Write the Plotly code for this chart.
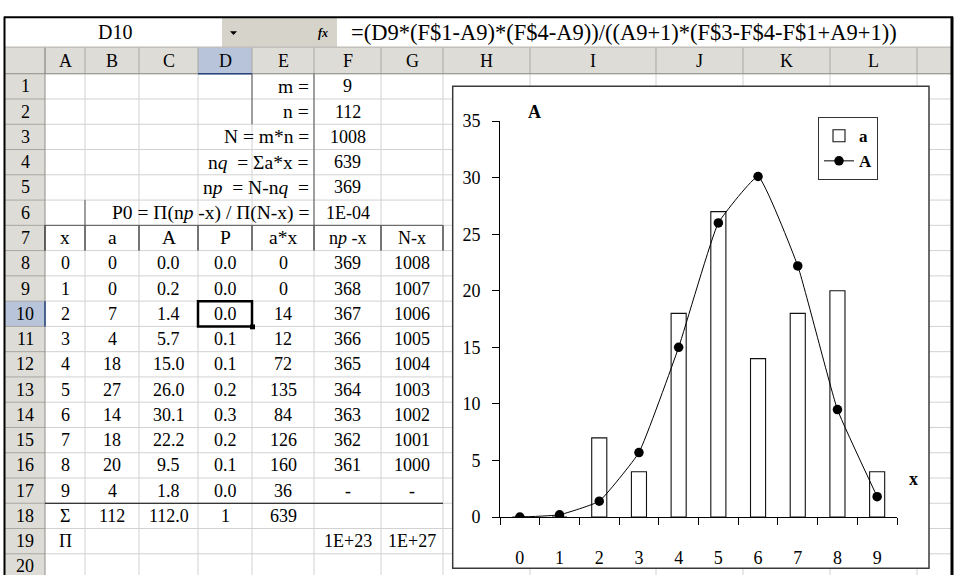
import plotly.graph_objects as go

W, H = 956, 585

# ---------------- data ----------------
x_vals = [0, 1, 2, 3, 4, 5, 6, 7, 8, 9]
a_vals = [0, 0, 7, 4, 18, 27, 14, 18, 20, 4]
A_vals = [0.0, 0.2, 1.4, 5.7, 15.0, 26.0, 30.1, 22.2, 9.5, 1.8]
P_vals = ["0.0", "0.0", "0.0", "0.1", "0.1", "0.2", "0.3", "0.2", "0.1", "0.0"]
ax_vals = [0, 0, 14, 12, 72, 135, 84, 126, 160, 36]
npx_vals = ["369", "368", "367", "366", "365", "364", "363", "362", "361", "-"]
Nx_vals = ["1008", "1007", "1006", "1005", "1004", "1003", "1002", "1001", "1000", "-"]
param_labels = ["m =", "n =", "N = m*n =", "n<i>q</i>  = Σa*x =", "n<i>p</i>  = N-n<i>q</i>  =",
                "P0 = Π(n<i>p</i> -x) / Π(N-x) ="]
param_values = ["9", "112", "1008", "639", "369", "1E-04"]
head_labels = ["x", "a", "A", "P", "a*x", "n<i>p</i> -x", "N-x"]
sum_row = ["Σ", "112", "112.0", "1", "639", "", ""]
prod_row = ["Π", "", "", "", "", "1E+23", "1E+27"]
col_letters = ["A", "B", "C", "D", "E", "F", "G", "H", "I", "J", "K", "L", ""]
formula = "=(D9*(F$1-A9)*(F$4-A9))/((A9+1)*(F$3-F$4-F$1+A9+1))"
name_box = "D10"

# ---------------- geometry helpers ----------------
def PX(x):
    return x / W

def PY(y):
    return 1 - y / H

col_edges = [5, 45, 85, 139, 198, 252, 314, 381, 443, 530, 656, 743, 830, 917, 951]
ROW0, RH = 66.0, 26.16
def rtop(i):
    return ROW0 + (i - 1) * RH

def ccen(c):  # c: 0 -> A
    return (col_edges[c + 1] + col_edges[c + 2]) / 2

SERIF = "Liberation Serif, Times New Roman, serif"
shapes = []
ann = []

def rect(x0, y0, x1, y1, fill=None, line=None, lw=1):
    shapes.append(dict(type="rect", xref="paper", yref="paper", x0=PX(x0), x1=PX(x1),
                       y0=PY(y1), y1=PY(y0), fillcolor=fill or "rgba(0,0,0,0)",
                       line=dict(color=line or "rgba(0,0,0,0)", width=lw if line else 0),
                       layer="below"))

def hline(x0, x1, y, color, lw=1):
    shapes.append(dict(type="line", xref="paper", yref="paper", x0=PX(x0), x1=PX(x1),
                       y0=PY(y), y1=PY(y), line=dict(color=color, width=lw), layer="below"))

def vline(x, y0, y1, color, lw=1):
    shapes.append(dict(type="line", xref="paper", yref="paper", x0=PX(x), x1=PX(x),
                       y0=PY(y0), y1=PY(y1), line=dict(color=color, width=lw), layer="below"))

def text(x, y, s, size=18, anchor="center", bold=False, color="black", italic=False):
    if bold:
        s = "<b>" + s + "</b>"
    if italic:
        s = "<i>" + s + "</i>"
    ann.append(dict(x=PX(x), y=PY(y), xref="paper", yref="paper", text=s, showarrow=False,
                    xanchor=anchor, yanchor="middle", font=dict(family=SERIF, size=size, color=color)))

HEAD_BG = "#dedcd6"
SEL_BG = "#b7c4d9"
GRID = "#d2d2d2"
HSEP = "#a9a7a0"
CELL = 18
LABEL = 19.5

# formula bar
rect(5, 8, 222, 38, fill="white")
rect(222, 8, 337, 38, fill="#d6d3cb")
rect(337, 8, 951, 38, fill="white")
hline(5, 951, 38.5, "#9a9890")
text(115, 23, name_box, size=20)
shapes.append(dict(type="path", xref="paper", yref="paper",
                   path=f"M {PX(230)} {PY(22)} L {PX(237)} {PY(22)} L {PX(233.5)} {PY(26)} Z",
                   fillcolor="black", line=dict(width=0), layer="below"))
text(323, 24, "fx", size=12, italic=True, bold=True)
text(349, 23, formula, size=22.5, anchor="left")

# header row and row headers
rect(5, 39, 951, 66, fill=HEAD_BG)
rect(5, 66, 45, 585, fill=HEAD_BG)
rect(198, 39, 252, 66, fill=SEL_BG)
rect(5, rtop(10), 45, rtop(11), fill=SEL_BG)

# gridlines in the cell area
for i in range(1, 22):
    y = rtop(i)
    if y < 585:
        hline(45, 951, y, GRID)
for x in col_edges[2:-1]:
    vline(x, 66, 585, GRID)

# header separators
for x in col_edges[1:-1]:
    vline(x, 39, 66, HSEP)
for i in range(2, 22):
    y = rtop(i)
    if y < 585:
        hline(5, 45, y, HSEP)
hline(5, 951, 66, "#8f8d86")
vline(45, 39, 585, "#8f8d86")
hline(198, 252, 66, "#26467f", 1.5)
vline(45, rtop(10), rtop(11), "#26467f", 1.5)

# header texts
for c, letter in enumerate(col_letters):
    if letter:
        text(ccen(c), 53, letter, size=CELL)
for i in range(1, 21):
    text(25, rtop(i) + RH / 2, str(i), size=CELL)

# cell borders
DARK = "#555555"
vline(314, rtop(1), rtop(7), DARK)
vline(252, rtop(1), rtop(3), DARK)
vline(85, rtop(6), rtop(7), DARK)
for x in col_edges[1:9]:
    vline(x, rtop(7), rtop(8), "black")
hline(45, 443, rtop(7), DARK)
hline(45, 443, rtop(18), "black")

# parameter block
for k in range(6):
    yc = rtop(k + 1) + RH / 2
    text(311, yc, param_labels[k], size=LABEL, anchor="right")
    text(ccen(5), yc, param_values[k], size=CELL)

# table header
for c in range(7):
    text(ccen(c), rtop(7) + RH / 2, head_labels[c], size=LABEL if c < 5 else CELL)

# table body
for r in range(10):
    yc = rtop(8 + r) + RH / 2
    row = [str(x_vals[r]), str(a_vals[r]), f"{A_vals[r]:.1f}", P_vals[r], str(ax_vals[r]),
           npx_vals[r], Nx_vals[r]]
    for c in range(7):
        text(ccen(c), yc, row[c], size=CELL)
for c in range(7):
    if sum_row[c]:
        text(ccen(c), rtop(18) + RH / 2, sum_row[c], size=CELL)
    if prod_row[c]:
        text(ccen(c), rtop(19) + RH / 2, prod_row[c], size=CELL)

# selected cell D10
rect(198, rtop(10), 252, rtop(11), line="black", lw=2.5)
rect(250, rtop(11) - 2, 255, rtop(11) + 3, fill="black")

# chart area
rect(452.7, 79, 929, 578, fill="white", line="#3a3a3a", lw=1.5)

# outer frame
vline(4.5, 7, 585, "black", 2)
hline(4, 953, 7.5, "black", 2)
vline(952, 7, 585, "black", 3)

# chart titles
text(534, 106, "A", size=18, bold=True)
text(913, 486, "x", size=18, bold=True)

cats = [str(v) for v in x_vals]

fig = go.Figure()
fig.add_trace(go.Bar(x=cats, y=a_vals, name="a",
                     marker=dict(color="white", line=dict(color="#111", width=1.1))))
fig.add_trace(go.Scatter(x=cats, y=A_vals, name="A", mode="lines+markers",
                         line=dict(color="black", width=1, shape="spline", smoothing=0.35),
                         marker=dict(color="black", size=9.5)))

fig.update_layout(
    width=W, height=H, margin=dict(l=0, r=0, t=0, b=0),
    paper_bgcolor="white", plot_bgcolor="rgba(0,0,0,0)",
    bargap=0.62, showlegend=True,
    shapes=shapes, annotations=ann,
    font=dict(family=SERIF, size=18, color="black"),
    legend=dict(x=PX(818), y=PY(111), xanchor="left", yanchor="top", bgcolor="white",
                bordercolor="#333", borderwidth=1,
                font=dict(family=SERIF, size=17, color="black", weight="bold"),
                tracegroupgap=4, itemwidth=30),
    xaxis=dict(domain=[PX(500), PX(897)], type="category", range=[-0.5, 9.5],
               showline=True, linecolor="black", linewidth=1, ticks="outside", ticklen=7,
               tickcolor="black", tickson="boundaries", showgrid=False, zeroline=False,
               ticklabelstandoff=24, tickfont=dict(family=SERIF, size=18)),
    yaxis=dict(domain=[PY(525), PY(115)], range=[0, 35], tickvals=[0, 5, 10, 15, 20, 25, 30, 35],
               showline=True, linecolor="black", linewidth=1, ticks="outside", ticklen=7,
               tickcolor="black", showgrid=False, zeroline=False, ticklabelstandoff=8,
               tickfont=dict(family=SERIF, size=18)),
)

fig.write_html("out.html")
